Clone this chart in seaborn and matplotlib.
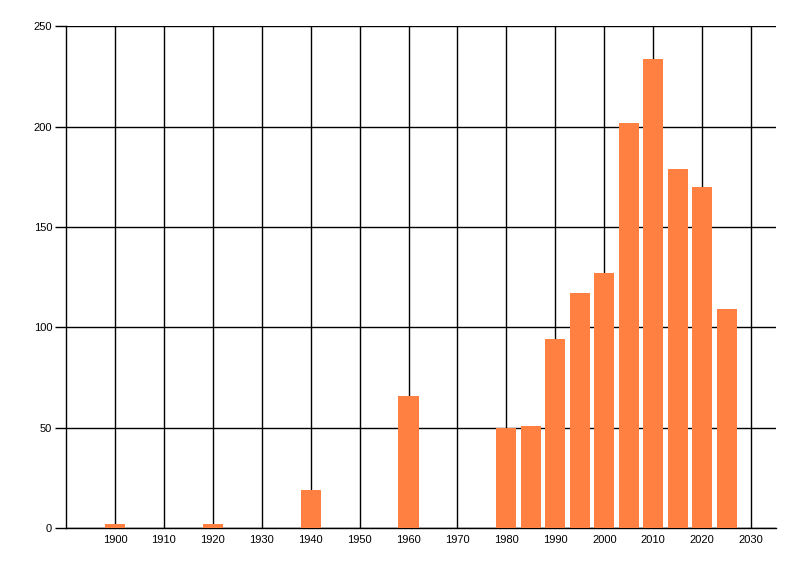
import seaborn as sns
import pandas as pd
import matplotlib.pyplot as plt

# datos
anios = [1900, 1920, 1940, 1960, 1980, 1985, 1990, 1995, 2000, 2005, 2010, 2015, 2020, 2025]
cantidad = [2, 2, 19, 66, 50, 51, 94, 117, 127, 202, 234, 179, 170, 109]
ticks_x = list(range(1900, 2031, 10))
ticks_y = [0, 50, 100, 150, 200, 250]

df = pd.DataFrame({"anio": anios, "cantidad": cantidad})

sns.set_theme(style="white")
plt.rcParams["font.family"] = ["Liberation Sans", "DejaVu Sans"]

fig = plt.figure(figsize=(8, 5.76), dpi=100)
ax = fig.add_axes([0.0825, 0.0833, 0.8869, 0.8707])

sns.barplot(data=df, x="anio", y="cantidad", native_scale=True, width=0.82,
            color="#FF8040", saturation=1, linewidth=0, ax=ax, zorder=3)

ax.set_xlim(1890, 2035)
ax.set_ylim(0, 250)
ax.set_xticks(ticks_x)
ax.set_xticklabels([str(t) for t in ticks_x])
ax.set_yticks(ticks_y)
ax.set_xlabel("")
ax.set_ylabel("")

# grilla negra
ax.grid(True, color="black", linewidth=1)
ax.set_axisbelow(True)

for s in ["top", "right"]:
    ax.spines[s].set_visible(False)
for s in ["left", "bottom"]:
    ax.spines[s].set_color("black")
    ax.spines[s].set_linewidth(1)

ax.tick_params(axis="x", length=0, pad=5, labelsize=8, colors="black")
ax.tick_params(axis="y", length=8, width=1, pad=2, labelsize=8, colors="black", left=True)

fig.savefig("out.png", dpi=100)
